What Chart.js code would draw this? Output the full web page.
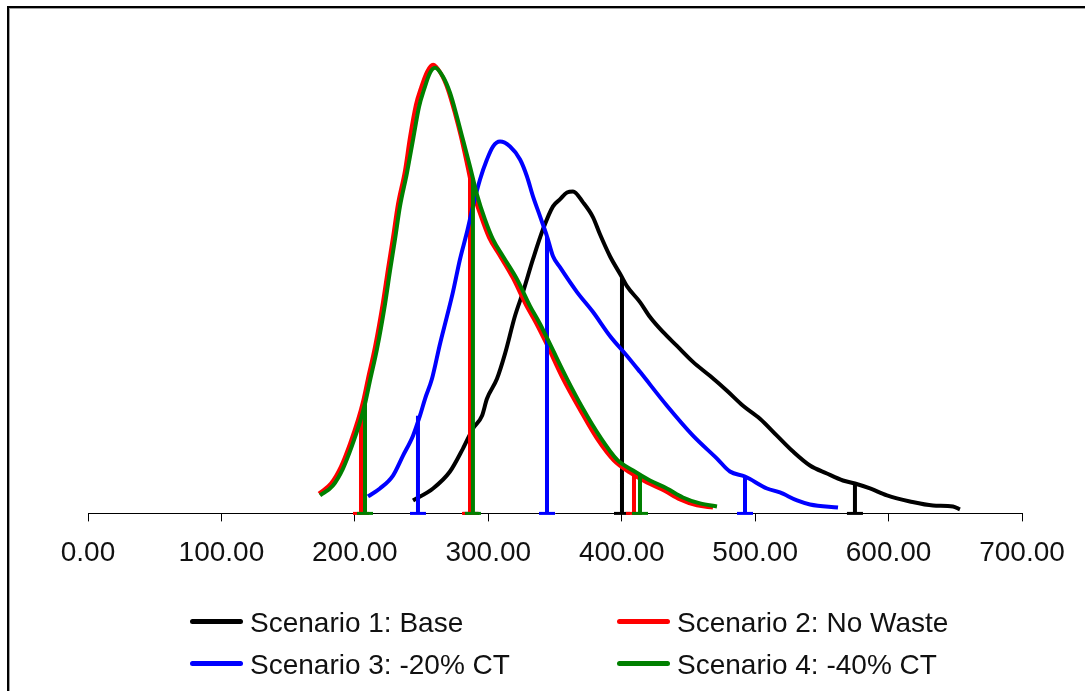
<!DOCTYPE html>
<html>
<head>
<meta charset="utf-8">
<title>Scenario distributions</title>
<script src="https://cdn.jsdelivr.net/npm/chart.js@4.4.0/dist/chart.umd.min.js"></script>
<style>
  html, body { margin: 0; padding: 0; background: #fff; overflow: hidden; }
  #wrap { position: relative; width: 1085px; height: 691px; overflow: hidden; }
  #frame { position: absolute; left: 7px; top: 6px; width: 1200px; height: 800px;
           border-top: 2px solid #000; border-left: 2px solid #000;
           box-shadow: inset 1px 1px 0 #a0a0a0; }
  #chart { position: absolute; left: 0; top: 0; }
  .item { position: absolute; font: 28px Arial, "Liberation Sans", sans-serif; color: #111;
          line-height: 34px; white-space: nowrap; }
  .swatch { position: absolute; left: 0; top: 13px; width: 53px; height: 5px; border-radius: 3px; }
</style>
</head>
<body>
<div id="wrap">
  <div id="frame"></div>
  <canvas id="chart" width="1085" height="691"></canvas>
  <div id="legend"></div>
</div>
<script>
// Series names and colours
const seriesNames = ['Scenario 1: Base', 'Scenario 2: No Waste', 'Scenario 3: -20% CT', 'Scenario 4: -40% CT'];
const seriesColors = ['#000000', '#ff0000', '#0000ff', '#008000'];

// X axis tick values
const xTickValues = [0, 100, 200, 300, 400, 500, 600, 700];

// Scenario 1: Base
const baseX = [243.6, 258.6, 271.3, 281.0, 288.5, 295.3, 299.0, 306.5, 312.5, 320.0, 326.0, 333.5, 341.0, 348.5,
  353.7, 359.0, 363.5, 371.0, 378.5, 383.7, 391.2, 400.2, 403.9, 413.7, 421.2, 430.9, 441.4, 453.4, 466.1,
  478.9, 490.9, 503.6, 516.3, 528.4, 541.1, 553.8, 565.8, 574.8, 586.1, 598.8, 616.0, 633.3, 648.3, 653.5];
const baseY = [2.6, 5.0, 8.4, 13.0, 17.0, 19.6, 23.0, 27.0, 32.0, 39.6, 44.4, 51.0, 57.0, 61.6,
  63.0, 64.4, 64.6, 62.4, 59.4, 56.0, 51.6, 47.4, 45.6, 42.4, 39.4, 36.4, 33.6, 30.4, 27.6,
  24.6, 21.6, 19.0, 15.6, 12.4, 9.6, 8.0, 6.6, 6.0, 5.0, 3.6, 2.4, 1.6, 1.4, 0.8];
const baseMarkX = [287.0, 400.2, 574.8];
const baseMarkY = [16.2, 47.4, 6.0];

// Scenario 2: No Waste
const noWasteX = [173.1, 182.1, 189.6, 196.4, 202.4, 206.1, 209.8, 215.1, 221.1, 224.8, 228.6, 232.3, 237.6,
  241.3, 245.8, 249.6, 254.1, 258.6, 264.6, 269.8, 275.1, 279.5, 284.0, 288.5, 294.5, 300.5, 308.0, 318.5,
  328.3, 335.8, 343.3, 356.0, 368.7, 381.5, 394.2, 406.2, 418.9, 431.7, 443.7, 456.4, 468.4];
const noWasteY = [4.0, 6.0, 9.4, 14.0, 18.8, 22.4, 27.0, 33.4, 42.4, 49.0, 55.4, 62.0, 68.8,
  75.4, 82.0, 85.4, 88.6, 90.0, 88.2, 85.0, 80.2, 75.6, 70.2, 64.6, 59.6, 55.4, 52.0, 47.2,
  41.8, 38.2, 34.2, 27.0, 20.8, 15.0, 10.6, 8.2, 6.2, 4.6, 2.8, 1.6, 1.2];
const noWasteMarkX = [204.6, 286.3, 409.2];
const noWasteMarkY = [20.2, 67.4, 7.8];

// Scenario 3: -20% CT
const ct20X = [209.8, 218.8, 228.6, 236.1, 243.6, 248.8, 252.6, 257.8, 263.8, 269.1, 273.5, 278.8, 284.0,
  288.5, 293.8, 299.0, 303.5, 308.8, 316.3, 323.8, 329.0, 333.5, 338.8, 344.0, 348.5, 353.7, 366.5, 378.5,
  391.2, 404.0, 413.7, 433.9, 453.4, 471.4, 481.1, 492.4, 508.9, 518.6, 531.4, 541.1, 562.1];
const ct20Y = [3.4, 5.0, 7.6, 11.6, 15.6, 19.6, 23.0, 27.0, 34.0, 39.6, 44.4, 51.0, 56.4,
  61.6, 67.0, 71.0, 73.6, 74.6, 73.6, 71.0, 67.6, 63.6, 59.6, 55.6, 51.6, 49.4, 44.4, 40.4,
  35.6, 31.6, 28.4, 21.6, 15.6, 11.0, 8.4, 7.4, 5.0, 4.2, 2.6, 1.8, 1.2];
const ct20MarkX = [247.3, 344.0, 492.4];
const ct20MarkY = [19.6, 55.6, 7.4];

// Scenario 4: -40% CT
const ct40X = [173.9, 183.6, 191.1, 197.9, 203.9, 207.6, 211.3, 216.6, 222.6, 226.3, 230.1, 233.8, 239.1,
  243.6, 248.1, 251.8, 256.3, 260.1, 266.1, 271.3, 276.5, 281.0, 286.3, 291.5, 297.5, 303.5, 311.0, 321.5,
  331.3, 338.8, 346.2, 359.0, 371.0, 383.7, 396.5, 408.5, 421.2, 433.9, 445.9, 458.7, 471.4];
const ct40Y = [3.6, 5.6, 9.0, 13.6, 18.4, 22.0, 26.6, 33.0, 42.0, 48.6, 55.0, 61.6, 68.4,
  75.0, 81.6, 85.0, 88.4, 89.4, 87.6, 84.4, 79.6, 75.0, 69.6, 64.0, 59.0, 55.0, 51.6, 47.0,
  41.6, 38.0, 34.0, 27.0, 21.0, 15.4, 10.8, 8.6, 6.6, 5.0, 3.2, 2.0, 1.4];
const ct40MarkX = [207.6, 288.5, 413.7];
const ct40MarkY = [22.0, 67.2, 7.8];

const fontFamily = 'Arial, "Liberation Sans", sans-serif';

// Turn x/y arrays into point objects
function toPoints(xs, ys) {
  return xs.map((x, i) => ({ x: x, y: ys[i] }));
}

// Each marker is a drop line from the curve to the axis, with a cap at the bottom
function toMarkers(xs, ys) {
  const pts = [];
  for (let i = 0; i < xs.length; i++) {
    pts.push({ x: xs[i], y: 0 });
    pts.push({ x: xs[i], y: ys[i] });
    pts.push({ x: xs[i], y: null });
  }
  return pts;
}

const curves = [
  [baseX, baseY, baseMarkX, baseMarkY],
  [noWasteX, noWasteY, noWasteMarkX, noWasteMarkY],
  [ct20X, ct20Y, ct20MarkX, ct20MarkY],
  [ct40X, ct40Y, ct40MarkX, ct40MarkY]
];

const datasets = [];
curves.forEach((c, i) => {
  // Later scenarios are drawn on top
  datasets.push({
    label: seriesNames[i],
    data: toPoints(c[0], c[1]),
    borderColor: seriesColors[i],
    borderWidth: 4,
    pointRadius: 0,
    cubicInterpolationMode: 'monotone',
    clip: false,
    order: 8 - i * 2
  });
  datasets.push({
    label: seriesNames[i] + ' markers',
    data: toMarkers(c[2], c[3]),
    borderColor: seriesColors[i],
    borderWidth: 4,
    tension: 0,
    spanGaps: false,
    pointStyle: 'line',
    pointRadius: ctx => (ctx.raw && ctx.raw.y === 0 ? 8 : 0),
    pointBorderColor: seriesColors[i],
    pointBorderWidth: 3,
    clip: false,
    order: 7 - i * 2
  });
});

new Chart(document.getElementById('chart'), {
  type: 'line',
  data: { datasets: datasets },
  options: {
    responsive: false,
    animation: false,
    events: [],
    layout: { padding: { left: 88, right: 63, top: 15, bottom: 106 } },
    plugins: { legend: { display: false }, tooltip: { enabled: false } },
    scales: {
      x: {
        type: 'linear',
        min: 0,
        max: 700,
        afterBuildTicks: scale => { scale.ticks = xTickValues.map(v => ({ value: v })); },
        ticks: {
          callback: v => Number(v).toFixed(2),
          font: { family: fontFamily, size: 28 },
          color: '#111',
          padding: 15,
          maxRotation: 0,
          autoSkip: false
        },
        grid: { drawOnChartArea: false, drawTicks: true, tickLength: 8, color: '#000', lineWidth: 1 },
        border: { display: true, color: '#000', width: 1 }
      },
      y: { display: false, min: 0, max: 100 }
    }
  }
});

// Legend in a 2 x 2 grid
const legendPos = [
  { left: 190, top: 606 },
  { left: 617, top: 606 },
  { left: 190, top: 648 },
  { left: 617, top: 648 }
];
const legend = document.getElementById('legend');
seriesNames.forEach((name, i) => {
  const item = document.createElement('div');
  item.className = 'item';
  item.style.left = legendPos[i].left + 'px';
  item.style.top = legendPos[i].top + 'px';
  const swatch = document.createElement('span');
  swatch.className = 'swatch';
  swatch.style.background = seriesColors[i];
  const text = document.createElement('span');
  text.style.marginLeft = '60px';
  text.textContent = name;
  item.appendChild(swatch);
  item.appendChild(text);
  legend.appendChild(item);
});
</script>
</body>
</html>
